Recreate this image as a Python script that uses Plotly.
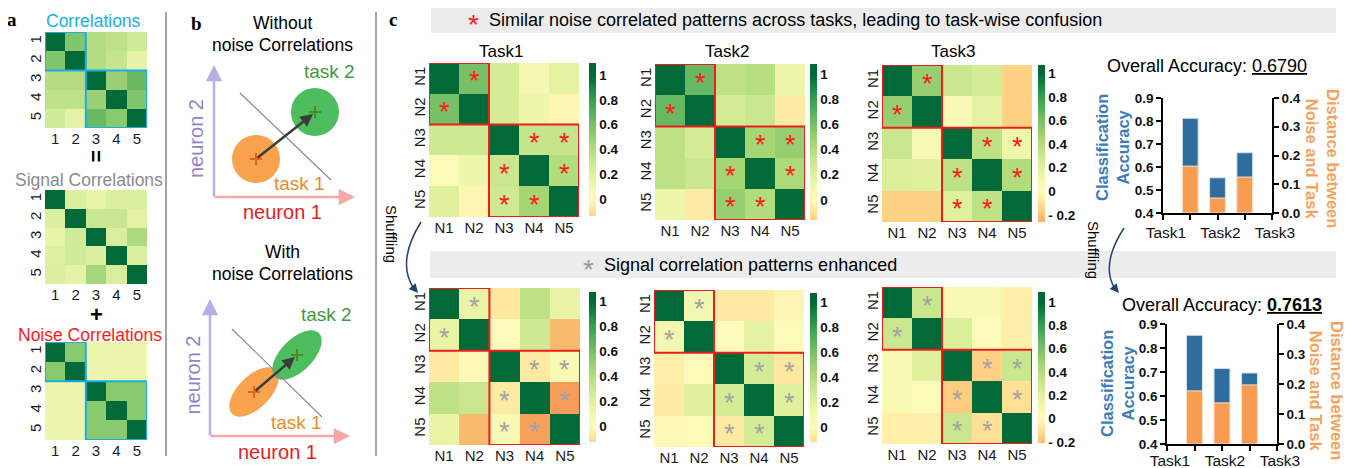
import numpy as np
import plotly.graph_objects as go

W, H = 1351, 468          # reference picture size
OFF = 8                   # page body margin of the browser
FW, FH = W - OFF, H - OFF  # figure size actually visible
FONT = "Arial, 'Liberation Sans', sans-serif"
SERIF = "'Times New Roman', 'Liberation Serif', serif"

# ------------------------------------------------------------------ data
idx_labels = ["1", "2", "3", "4", "5"]
neurons = ["N1", "N2", "N3", "N4", "N5"]
tasks = ["Task1", "Task2", "Task3"]

corr_a = [[1.00, 0.58, 0.40, 0.35, 0.25],
          [0.58, 1.00, 0.40, 0.32, 0.12],
          [0.40, 0.40, 1.00, 0.50, 0.65],
          [0.35, 0.35, 0.50, 1.00, 0.58],
          [0.25, 0.12, 0.65, 0.55, 1.00]]
signal_a = [[1.00, 0.20, 0.10, 0.20, 0.22],
            [0.20, 1.00, 0.30, 0.30, 0.15],
            [0.10, 0.25, 1.00, 0.22, 0.42],
            [0.18, 0.25, 0.20, 1.00, 0.22],
            [0.20, 0.12, 0.45, 0.22, 1.00]]
noise_a = [[1.00, 0.55, 0.04, 0.04, 0.04],
           [0.55, 1.00, 0.04, 0.04, 0.04],
           [0.04, 0.04, 1.00, 0.55, 0.55],
           [0.04, 0.04, 0.55, 1.00, 0.55],
           [0.04, 0.04, 0.55, 0.55, 1.00]]

noise_task1 = [[1.00, 0.60, 0.25, 0.08, 0.18],
               [0.60, 1.00, 0.25, 0.12, -0.02],
               [0.28, 0.28, 1.00, 0.32, 0.32],
               [0.03, 0.12, 0.30, 1.00, 0.40],
               [0.20, -0.02, 0.28, 0.45, 1.00]]
noise_task2 = [[1.00, 0.65, 0.35, 0.38, 0.12],
               [0.65, 1.00, 0.25, 0.30, -0.06],
               [0.35, 0.25, 1.00, 0.45, 0.50],
               [0.35, 0.30, 0.45, 1.00, 0.42],
               [0.12, -0.06, 0.50, 0.40, 1.00]]
noise_task3 = [[1.00, 0.50, 0.30, 0.25, -0.15],
               [0.50, 1.00, 0.05, 0.18, -0.15],
               [0.30, 0.05, 1.00, 0.35, 0.12],
               [0.22, 0.20, 0.35, 1.00, 0.40],
               [-0.15, -0.15, 0.20, 0.35, 1.00]]

shuf_task1 = [[1.00, 0.15, -0.08, 0.35, 0.15],
              [0.15, 1.00, 0.02, 0.28, -0.22],
              [-0.07, 0.00, 1.00, -0.07, 0.05],
              [0.35, 0.30, -0.07, 1.00, -0.32],
              [0.15, -0.22, 0.05, -0.30, 1.00]]
shuf_task2 = [[1.00, 0.10, -0.07, -0.07, -0.02],
              [0.10, 1.00, 0.02, 0.18, 0.03],
              [-0.05, 0.03, 1.00, 0.25, -0.08],
              [-0.06, 0.20, 0.25, 1.00, 0.20],
              [0.00, 0.03, -0.07, 0.25, 1.00]]
shuf_task3 = [[1.00, 0.30, 0.05, 0.05, -0.05],
              [0.30, 1.00, 0.22, 0.02, -0.05],
              [0.05, 0.20, 1.00, -0.15, 0.30],
              [0.05, 0.03, -0.17, 1.00, -0.10],
              [-0.05, -0.05, 0.30, -0.10, 1.00]]

star_cells = [(0, 1), (1, 0), (2, 3), (2, 4), (3, 2), (3, 4), (4, 2), (4, 3)]
blocks = [(0, 1), (2, 4)]

acc_before = [0.812, 0.553, 0.662]
dist_before = [0.163, 0.052, 0.125]
acc_after = [0.853, 0.715, 0.696]
dist_after = [0.177, 0.137, 0.197]
overall_before = "0.6790"
overall_after = "0.7613"

# ------------------------------------------------------------------ colours
RDYLGN = [(-0.45, "#ef8245"), (-0.3, "#f6a15c"), (-0.2, "#fcc274"), (-0.1, "#fee296"),
          (0.0, "#fffbbd"), (0.15, "#eaf5a6"), (0.3, "#cbe78f"), (0.45, "#a6d773"),
          (0.6, "#78c068"), (0.8, "#35a04f"), (1.0, "#006837"), (1.2, "#006837")]
YLGN = [(0.0, "#f3f8b2"), (0.2, "#dcefa0"), (0.4, "#b5dc80"), (0.6, "#7cc36a"),
        (0.8, "#3a9e50"), (1.0, "#006837"), (1.2, "#006837")]


def hex2rgb(h):
    return np.array([int(h[i:i + 2], 16) for i in (1, 3, 5)], dtype=float)


def colour_at(anchors, v):
    vals = [a[0] for a in anchors]
    cols = [hex2rgb(a[1]) for a in anchors]
    c = np.array([np.interp(v, vals, [cc[k] for cc in cols]) for k in range(3)])
    return "rgb(%d,%d,%d)" % tuple(np.round(c))


def scale(anchors, lo, hi, n=40):
    return [[i / (n - 1), colour_at(anchors, lo + (hi - lo) * i / (n - 1))] for i in range(n)]


def PX(x):
    return (x - OFF) / FW


def PY(y):
    return 1 - (y - OFF) / FH


fig = go.Figure()
layout = {}
annotations = []
shapes = []
counter = {"x": 0, "y": 0}


def nxt(p):
    counter[p] += 1
    i = counter[p]
    return (p if i == 1 else f"{p}{i}"), (f"{p}axis" if i == 1 else f"{p}axis{i}")


def txt(x, y, s, size=16, color="black", angle=0, bold=False, family=FONT,
        xanchor="center", yanchor="middle"):
    annotations.append(dict(x=PX(x), y=PY(y), xref="paper", yref="paper", text=s,
                            showarrow=False, textangle=angle, xanchor=xanchor, yanchor=yanchor,
                            font=dict(size=size, color=color, family=family,
                                      weight="bold" if bold else "normal")))


def arrow(x0, y0, x1, y1, color, width, head=2, size=1.0):
    annotations.append(dict(x=PX(x1), y=PY(y1), xref="paper", yref="paper",
                            ax=x0 - x1, ay=y0 - y1, axref="pixel", ayref="pixel",
                            text="", showarrow=True, arrowhead=head, arrowsize=size,
                            arrowwidth=width, arrowcolor=color))


def line(x0, y0, x1, y1, color, width):
    shapes.append(dict(type="line", xref="paper", yref="paper", x0=PX(x0), y0=PY(y0),
                       x1=PX(x1), y1=PY(y1), line=dict(color=color, width=width)))


def heat(z, labels, box, anchors, zr, cb=None, stars=None, star_color=None,
         box_color=None, tick_size=15):
    xr, xk = nxt("x")
    yr, yk = nxt("y")
    l, t, r, b = box
    n = len(labels)
    pos = list(range(n))
    fig.add_trace(go.Heatmap(z=z, x=pos, y=pos, zmin=zr[0], zmax=zr[1],
                             colorscale=scale(anchors, zr[0], zr[1]), showscale=False,
                             xaxis=xr, yaxis=yr, hoverinfo="skip"))
    tf = dict(size=tick_size, family=FONT, color="#1a1a1a")
    layout[xk] = dict(domain=[PX(l), PX(r)], range=[-0.5, n - 0.5], anchor=yr,
                      tickvals=pos, ticktext=labels, ticks="", showgrid=False,
                      zeroline=False, showline=False, tickfont=tf, fixedrange=True)
    layout[yk] = dict(domain=[PY(b), PY(t)], range=[n - 0.5, -0.5], anchor=xr,
                      tickvals=pos, ticktext=labels, ticks="", showgrid=False,
                      zeroline=False, showline=False, tickangle=-90, tickfont=tf,
                      fixedrange=True)
    if cb is not None:
        cl, ct, cr, cbm, clo, chi, tv, tt = cb
        fig.add_trace(go.Heatmap(
            z=[[clo, chi]], x=[-10, -9], y=[0], zmin=clo, zmax=chi,
            colorscale=scale(anchors, clo, chi), showscale=True, xaxis=xr, yaxis=yr,
            hoverinfo="skip",
            colorbar=dict(x=PX(cl), xanchor="left", y=PY(ct), yanchor="top",
                          len=(cbm - ct) / FH, lenmode="fraction",
                          thickness=cr - cl, thicknessmode="pixels",
                          outlinewidth=0, xpad=0, ypad=0, ticks="", ticklen=0,
                          tickvals=tv, ticktext=tt,
                          tickfont=dict(size=13.5, family=FONT, color="#111",
                                        weight="bold"))))
    if stars:
        for (rw, cl_) in stars:
            annotations.append(dict(x=cl_, y=rw, xref=xr, yref=yr, text="*",
                                    showarrow=False, yshift=-3,
                                    font=dict(size=27, color=star_color, family=FONT)))
    if box_color:
        for (a0, a1) in blocks:
            shapes.append(dict(type="rect", xref=xr, yref=yr, x0=a0 - 0.5, x1=a1 + 0.5,
                               y0=a0 - 0.5, y1=a1 + 0.5,
                               line=dict(color=box_color, width=2)))
    return xr, yr


# ------------------------------------------------------------------ panel a
CYAN = "#19aee6"
txt(12, 20, "a", 19, bold=True, family=SERIF)
txt(93, 21, "Correlations", 17.5, CYAN)
heat(corr_a, idx_labels, (45, 32, 147, 128), YLGN, (0, 1.2), box_color=CYAN)
txt(96, 156, "=", 21, angle=90, bold=True)
txt(89, 180, "Signal Correlations", 17.5, "#8a8a8a")
heat(signal_a, idx_labels, (45, 190, 147, 284), YLGN, (0, 1.2))
txt(96, 314, "+", 22, bold=True)
txt(90, 335, "Noise Correlations", 17.5, "#ff1a1a")
heat(noise_a, idx_labels, (45, 342, 147, 440), YLGN, (0, 1.2), box_color=CYAN)

line(166, 12, 166, 456, "#8c8c8c", 1.6)
line(376, 12, 376, 456, "#8c8c8c", 1.6)

# ------------------------------------------------------------------ panel b
ORG, GRN = "#f9a34e", "#4dbd5e"
PUR, RED = "#8f84cc", "#e81c1c"
txt(196, 23, "b", 19, bold=True, family=SERIF)
for (title_y, ox, oy, xe, yt) in [(23, 214, 197, 355, 65), (252, 210, 436, 350, 299)]:
    txt(282, title_y, "Without" if title_y < 100 else "With", 17.5)
    txt(282, title_y + 22, "noise Correlations", 17.5)
    arrow(ox, oy + 1, ox, yt, "#b8aee3", 2.5, head=2, size=1.3)
    arrow(ox - 1, oy, xe, oy, "#f6a8a8", 2.5, head=2, size=1.3)
    txt(ox - 18, (oy + yt) / 2 + 8, "neuron 2", 20, PUR, angle=-90)

txt(282, 212, "neuron 1", 20, RED)
txt(277, 452, "neuron 1", 20, RED)

# top: circles
orange_c, green_c, rad = (256, 159), (315, 112), 24
shapes.append(dict(type="circle", xref="paper", yref="paper", x0=PX(orange_c[0] - rad),
                   x1=PX(orange_c[0] + rad), y0=PY(orange_c[1] + rad), y1=PY(orange_c[1] - rad),
                   fillcolor=ORG, line=dict(width=0)))
shapes.append(dict(type="circle", xref="paper", yref="paper", x0=PX(green_c[0] - rad),
                   x1=PX(green_c[0] + rad), y0=PY(green_c[1] + rad), y1=PY(green_c[1] - rad),
                   fillcolor=GRN, line=dict(width=0)))
line(240, 93, 331, 180, "#8a8a8a", 1.2)


def ellipse_path(cx, cy, a, b, ang, n=72):
    tt = np.linspace(0, 2 * np.pi, n, endpoint=False)
    th = np.deg2rad(ang)
    xs = cx + a * np.cos(tt) * np.cos(th) - b * np.sin(tt) * np.sin(th)
    ys = cy - (a * np.cos(tt) * np.sin(th) + b * np.sin(tt) * np.cos(th))
    return "M" + " L".join(f"{PX(x):.5f},{PY(y):.5f}" for x, y in zip(xs, ys)) + " Z"


orange_e, green_e = (254, 392), (297, 355)
shapes.append(dict(type="path", xref="paper", yref="paper",
                   path=ellipse_path(*orange_e, 31, 16, 45), fillcolor=ORG, line=dict(width=0)))
shapes.append(dict(type="path", xref="paper", yref="paper",
                   path=ellipse_path(*green_e, 31, 16, 45), fillcolor=GRN, line=dict(width=0)))
line(232, 329, 322, 417, "#8a8a8a", 1.2)


def plus(cx, cy, col, s=6):
    line(cx - s, cy, cx + s, cy, col, 2)
    line(cx, cy - s, cx, cy + s, col, 2)


for (o, g) in [(orange_c, green_c), (orange_e, green_e)]:
    arrow(o[0], o[1], g[0] - 2, g[1] + 2, "#3c3c3c", 2.5, head=2, size=1.0)
    plus(*o, "#e8621f")
    plus(*g, "#4a8a2c")

txt(329, 72, "task 2", 19, "#3f9a3f")
txt(299, 183, "task 1", 19, "#f08a2e")
txt(326, 314, "task 2", 19, "#3f9a3f")
txt(296, 422, "task 1", 19, "#f08a2e")

# ------------------------------------------------------------------ panel c headers
txt(393, 20, "c", 19, bold=True, family=SERIF)
shapes.append(dict(type="rect", xref="paper", yref="paper", x0=PX(431), x1=PX(1336),
                   y0=PY(33), y1=PY(6), fillcolor="#ececec", line=dict(width=0), layer="below"))
shapes.append(dict(type="rect", xref="paper", yref="paper", x0=PX(430), x1=PX(1336),
                   y0=PY(278), y1=PY(251), fillcolor="#ececec", line=dict(width=0), layer="below"))
txt(473, 24, "*", 28, "#ff1a1a")
txt(487, 20, "Similar noise correlated patterns across tasks, leading to task-wise confusion",
    18, xanchor="left")
txt(588, 269, "*", 28, "#9a9a9a")
txt(602, 265, "Signal correlation patterns enhanced", 18, xanchor="left")

# ------------------------------------------------------------------ panel c heatmaps
ZR = (-0.45, 1.2)
t01 = [0, 0.2, 0.4, 0.6, 0.8, 1]
tl01 = ["0", "0.2", "0.4", "0.6", "0.8", "1"]
tm = [-0.2, 0, 0.2, 0.4, 0.6, 0.8, 1]
tlm = ["- 0.2", "0", "0.2", "0.4", "0.6", "0.8", "1"]

txt(501, 51, tasks[0], 17)
txt(727, 51, tasks[1], 17)
txt(953, 51, tasks[2], 17)
heat(noise_task1, neurons, (429, 63, 579, 217), RDYLGN, ZR,
     cb=(589, 63, 596, 216, -0.137, 1.097, t01, tl01), stars=star_cells,
     star_color="#ff1a1a", box_color="#ee1c1c")
heat(noise_task2, neurons, (655, 64, 805, 220), RDYLGN, ZR,
     cb=(810, 64, 817, 220, -0.16, 1.08, t01, tl01), stars=star_cells,
     star_color="#ff1a1a", box_color="#ee1c1c")
heat(noise_task3, neurons, (882, 65, 1032, 222), RDYLGN, ZR,
     cb=(1038, 65, 1045, 222, -0.26, 1.07, tm, tlm), stars=star_cells,
     star_color="#ff1a1a", box_color="#ee1c1c")
heat(shuf_task1, neurons, (429, 288, 580, 445), RDYLGN, ZR,
     cb=(589, 292, 596, 442, -0.128, 1.072, t01, tl01), stars=star_cells,
     star_color="#a3a3a3", box_color="#ee1c1c")
heat(shuf_task2, neurons, (654, 290, 804, 447), RDYLGN, ZR,
     cb=(810, 293, 817, 442, -0.12, 1.072, t01, tl01), stars=star_cells,
     star_color="#a3a3a3", box_color="#ee1c1c")
heat(shuf_task3, neurons, (882, 287, 1032, 444), RDYLGN, ZR,
     cb=(1038, 292, 1045, 443, -0.21, 1.086, tm, tlm), stars=star_cells,
     star_color="#a3a3a3", box_color="#ee1c1c")

# shuffling arrows
NAVY = "#22406f"
shapes.append(dict(type="path", xref="paper", yref="paper",
                   path=f"M{PX(421)},{PY(222)} Q{PX(396)},{PY(262)} {PX(414)},{PY(289)}",
                   line=dict(color=NAVY, width=1.5)))
arrow(412, 286, 418, 293, NAVY, 1.5, head=2, size=1.2)
txt(392, 234, "Shuffling", 15, angle=90)
shapes.append(dict(type="path", xref="paper", yref="paper",
                   path=f"M{PX(1124)},{PY(228)} Q{PX(1100)},{PY(265)} {PX(1115)},{PY(289)}",
                   line=dict(color=NAVY, width=1.5)))
arrow(1113, 286, 1119, 293, NAVY, 1.5, head=2, size=1.2)
txt(1093, 250, "Shuffling", 15, angle=90)

# ------------------------------------------------------------------ bar charts
BLUE, ORB = "#2f6d9f", "#f89c52"
TBLUE, TORG = "#3a7bb9", "#f7a25c"


def barchart(box, acc, dist, standoff):
    xr, xk = nxt("x")
    yr, yk = nxt("y")
    yr2, yk2 = nxt("y")
    l, t, r, b = box
    pos = [1, 2, 3]
    fig.add_trace(go.Bar(x=pos, y=acc, xaxis=xr, yaxis=yr, width=0.58, hoverinfo="skip",
                         marker=dict(color=BLUE, line=dict(color="#d3e2ef", width=1))))
    fig.add_trace(go.Bar(x=pos, y=dist, xaxis=xr, yaxis=yr2, width=0.58, hoverinfo="skip",
                         marker=dict(color=ORB, line=dict(color="#fde2c8", width=1))))
    bold = dict(size=13.5, family=FONT, color="#111", weight="bold")
    common = dict(ticks="outside", ticklen=5, tickwidth=1.6, tickcolor="black",
                  showline=True, linecolor="black", linewidth=1.6, showgrid=False,
                  zeroline=False, fixedrange=True)
    layout[xk] = dict(domain=[PX(l), PX(r)], range=[0, 4], anchor=yr,
                      tickvals=[0, 1, 2, 3, 4], ticklabelshift=3,
                      ticklabelstandoff=standoff,
                      ticktext=[tasks[0], "", tasks[1], "", tasks[2]],
                      tickfont=dict(size=15.5, family=FONT, color="#111"), **common)
    layout[yk] = dict(domain=[PY(b), PY(t)], range=[0.4, 0.9], tick0=0.4, dtick=0.1,
                      tickformat=".1f", anchor=xr, tickfont=bold, **common)
    layout[yk2] = dict(range=[0, 0.4], tick0=0, dtick=0.1, tickformat=".1f",
                       overlaying=yr, side="right", anchor=xr, tickfont=bold, **common)


barchart((1163, 98, 1272, 213), acc_before, dist_before, 0)
barchart((1167, 324, 1277, 444), acc_after, dist_after, -3)
txt(1207, 66, f"Overall Accuracy: <u>{overall_before}</u>", 18)
txt(1222, 305, f"Overall Accuracy: <u><b>{overall_after}</b></u>", 18)
txt(1112, 148, "Classification<br>Accuracy", 16.5, TBLUE, angle=-90, bold=True)
txt(1323, 158, "Distance between<br>Noise and Task", 16.5, TORG, angle=90, bold=True)
txt(1117, 384, "Classification<br>Accuracy", 16.5, TBLUE, angle=-90, bold=True)
txt(1327, 390, "Distance between<br>Noise and Task", 16.5, TORG, angle=90, bold=True)

layout.update(dict(width=FW, height=FH, autosize=False,
                   margin=dict(l=0, r=0, t=0, b=0, pad=0, autoexpand=False),
                   paper_bgcolor="white", plot_bgcolor="rgba(0,0,0,0)", showlegend=False,
                   annotations=annotations, shapes=shapes, barmode="overlay",
                   font=dict(family=FONT, color="black")))
fig.update_layout(**layout)
fig.write_html("out.html")
